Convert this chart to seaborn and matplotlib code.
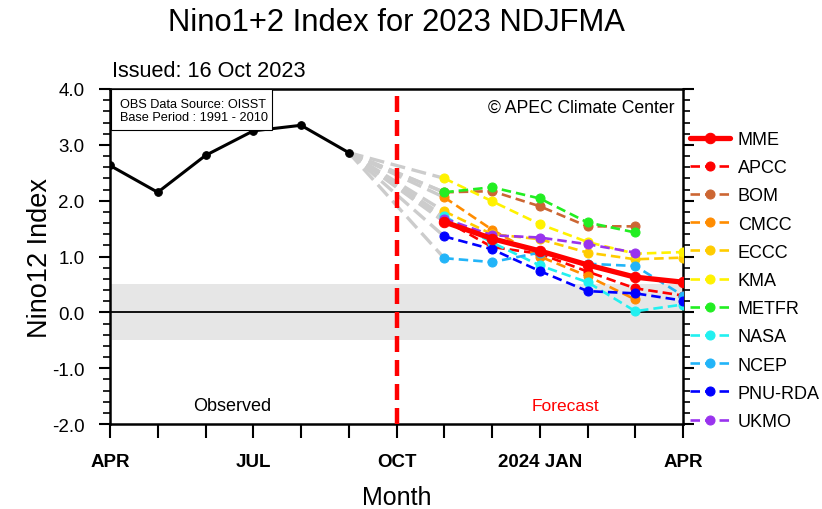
import numpy as np
import pandas as pd
import matplotlib
matplotlib.use("Agg")
import matplotlib.pyplot as plt
from matplotlib.patches import Rectangle
import seaborn as sns

# Month axis: 0 = APR 2023 ... 12 = APR 2024
obs_months = [0, 1, 2, 3, 4, 5]
obs_values = [2.63, 2.15, 2.81, 3.25, 3.35, 2.86]

fc_months = [7, 8, 9, 10, 11, 12]   # NOV DEC JAN FEB MAR APR

mme    = [1.62, 1.32, 1.10, 0.85, 0.63, 0.54]
apcc   = [1.65, 1.17, 1.05, 0.73, 0.43, 0.30]
bom    = [2.15, 2.17, 1.90, 1.54, 1.54]
cmcc   = [2.06, 1.48, 1.00, 0.65, 0.23]
eccc   = [1.81, 1.40, 1.31, 1.07, 0.95, 0.98]
kma    = [2.40, 1.99, 1.58, 1.26, 1.05, 1.08]
metfr  = [2.15, 2.24, 2.04, 1.61, 1.43]
nasa   = [1.72, 1.25, 0.84, 0.54, 0.02, 0.14]
ncep   = [0.97, 0.90, 1.07, 0.87, 0.83, 0.30]
pnurda = [1.36, 1.13, 0.74, 0.38, 0.34, 0.21]
ukmo   = [1.68, 1.38, 1.34, 1.22, 1.07]

model_names = ["MME", "APCC", "BOM", "CMCC", "ECCC", "KMA",
               "METFR", "NASA", "NCEP", "PNU-RDA", "UKMO"]
model_values = [mme, apcc, bom, cmcc, eccc, kma, metfr, nasa, ncep, pnurda, ukmo]
model_colors = ["#FF0000", "#FF0000", "#CC6633", "#FF8C00", "#FFCC00", "#FFF200",
                "#22EE22", "#22F0F0", "#22B4F8", "#0000FF", "#9933EE"]

tick_months = list(range(13))
tick_labels = ["APR", "", "", "JUL", "", "", "OCT", "", "", "2024 JAN", "", "", "APR"]

sns.set_style("ticks")
plt.rcParams["font.family"] = ["Liberation Sans", "DejaVu Sans"]
plt.rcParams["text.color"] = "black"
plt.rcParams["axes.labelcolor"] = "black"
plt.rcParams["xtick.color"] = "black"
plt.rcParams["ytick.color"] = "black"

W, H = 822, 510
fig = plt.figure(figsize=(W / 100, H / 100), dpi=100)
ax = fig.add_axes([110 / W, 1 - 425 / H, (683 - 110) / W, (425 - 90) / H])

# neutral band and zero line
ax.axhspan(-0.5, 0.5, color="#E6E6E6", zorder=0, lw=0)
ax.axhline(0, color="black", lw=1.3, zorder=1)

# grey connectors from the last observation to each model's first month
for name, vals in zip(model_names[::-1], model_values[::-1]):
    conn = pd.DataFrame({"month": [obs_months[-1], fc_months[0]],
                         "value": [obs_values[-1], vals[0]]})
    sns.lineplot(data=conn, x="month", y="value", ax=ax, color="#CCCCCC",
                 lw=2.4, linestyle=(0, (4.5, 2.0)), legend=False, zorder=2)

# observed
obs = pd.DataFrame({"month": obs_months, "value": obs_values})
sns.lineplot(data=obs, x="month", y="value", ax=ax, color="black", lw=2.2,
             marker="o", markersize=5.5, markeredgecolor="black",
             legend=False, zorder=5)

# model forecasts (drawn back to front so MME sits on top)
handles = {}
for i in range(len(model_names) - 1, -1, -1):
    name, vals, col = model_names[i], model_values[i], model_colors[i]
    df = pd.DataFrame({"month": fc_months[:len(vals)], "value": vals})
    if name == "MME":
        sns.lineplot(data=df, x="month", y="value", ax=ax, color=col, lw=3.8,
                     marker="o", markersize=7.5, markeredgecolor=col,
                     legend=False, zorder=10)
    else:
        sns.lineplot(data=df, x="month", y="value", ax=ax, color=col, lw=1.9,
                     linestyle=(0, (3.6, 1.9)), marker="o", markersize=6.5,
                     markeredgecolor=col, legend=False, zorder=4 + i * 0.1)
    handles[name] = ax.lines[-1]

# forecast start marker
ax.axvline(6, color="#FF0000", lw=3.2, linestyle=(0, (3.6, 1.8)), zorder=3)

ax.set_xlim(0, 12)
ax.set_ylim(-2.0, 4.0)
ax.set_xticks(tick_months)
ax.set_xticklabels(tick_labels, fontweight="bold", fontsize=13.5)
ax.set_yticks(np.arange(-2.0, 4.01, 1.0))
ax.set_yticklabels([f"{v:.1f}" for v in np.arange(-2.0, 4.01, 1.0)], fontsize=13.5)
ax.set_yticks(np.arange(-2.0, 4.01, 0.2), minor=True)
ax.tick_params(axis="x", which="major", direction="out", length=10, width=1.5, pad=11)
ax.tick_params(axis="y", which="major", direction="out", length=8, width=1.5,
               pad=10.5, right=True)
ax.tick_params(axis="y", which="minor", direction="out", length=5, width=1.2, right=True)
ax.tick_params(axis="x", which="minor", bottom=False)
for s in ax.spines.values():
    s.set_linewidth(1.8)
    s.set_color("black")

ax.set_xlabel("Month", fontsize=18, labelpad=11)
ax.set_ylabel("Nino12 Index", fontsize=19.5)
ax.yaxis.set_label_coords(-0.100, 0.5)

fig.text(396 / W, 1 - 23 / H, "Nino1+2 Index for 2023 NDJFMA",
         ha="center", va="center", fontsize=22.3)
fig.text(112 / W, 1 - 72 / H, "Issued: 16 Oct 2023",
         ha="left", va="center", fontsize=15.6)

ax.text(0.985, 0.945, "© APEC Climate Center", transform=ax.transAxes,
        ha="right", va="center", fontsize=12.7)
ax.text(0.214, 0.055, "Observed", transform=ax.transAxes,
        ha="center", va="center", fontsize=13, color="black")
ax.text(0.794, 0.055, "Forecast", transform=ax.transAxes,
        ha="center", va="center", fontsize=12.5, color="#FF0000")

# data-source note box in the upper-left corner
ax.add_patch(Rectangle((0.002, 0.8776), 0.281, 0.1224, transform=ax.transAxes,
                       fc="white", ec="black", lw=0.8, zorder=20, clip_on=False))
ax.text(0.0175, 0.955, "OBS Data Source: OISST", transform=ax.transAxes,
        ha="left", va="center", fontsize=9.2, zorder=21)
ax.text(0.0175, 0.916, "Base Period : 1991 - 2010", transform=ax.transAxes,
        ha="left", va="center", fontsize=9.2, zorder=21)

leg = fig.legend([handles[n] for n in model_names], model_names,
                 loc="upper left", bbox_to_anchor=(690 / W, 1 - 132 / H),
                 frameon=False, fontsize=13, handlelength=2.2,
                 handletextpad=0.45, labelspacing=0.62, borderpad=0,
                 borderaxespad=0)

fig.savefig("out.png", dpi=100)
